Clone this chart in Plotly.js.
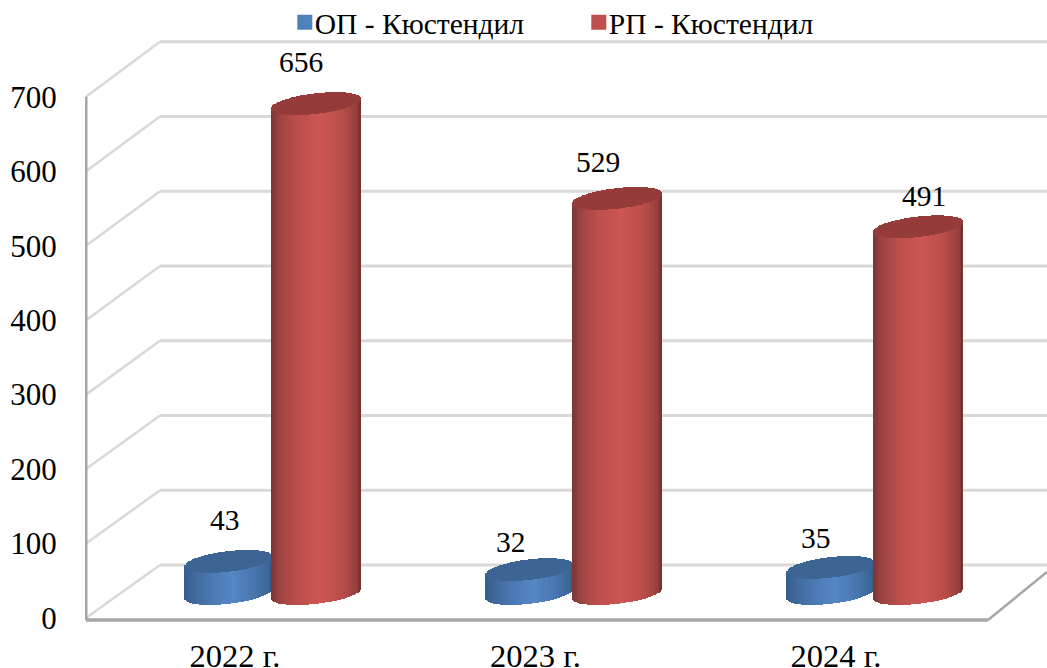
<!DOCTYPE html>
<html><head><meta charset="utf-8">
<script src="https://cdn.plot.ly/plotly-3.0.1.min.js"></script>
<style>html,body{margin:0;padding:0;background:#fff}#c{width:1047px;height:668px}</style>
</head><body><div id="c"></div>
<script>
// Data
const categories = ['2022 г.', '2023 г.', '2024 г.'];
const seriesOP = [43, 32, 35];
const seriesRP = [656, 529, 491];
const nameOP = 'ОП - Кюстендил';
const nameRP = 'РП - Кюстендил';
const yTicks = [0, 100, 200, 300, 400, 500, 600, 700];

// Pixel layout of the plot area
const W = 1047, H = 668;
const plotL = 85, plotR = 1047, plotT = 38, plotB = 622;
const x0px = 235, xStep = 300.5;         // category 0 and spacing
const y0px = 618, yStep = 0.7446;        // value 0 and px per unit
const xr = px => (px - x0px) / xStep;
const yr = px => (y0px - px) / yStep;
const FONT = '"Liberation Serif","Times New Roman",serif';

// 3D look
const depthMid = 24.5 / yStep;           // bars stand mid-floor
const backOff = 53 / yStep, backScale = 1.004;
const heightScale = 1.003;
const barDrift = 0.5 / xStep;            // bars step slightly wider than the labels
const A = { blue: 44 / xStep, red: 45 / xStep };
const B = 10.3 / yStep, T = 5 / yStep;
const centers = { blue: 228.5, red: 316 };
const redStops = [[0,'#7a3533'],[0.1,'#9c4442'],[0.3,'#bd4f4c'],[0.55,'#cc5653'],[0.8,'#b94d4a'],[0.95,'#97403e'],[1,'#723130']];
const blueStops = [[0,'#345d8f'],[0.1,'#3f6799'],[0.3,'#4a78b1'],[0.55,'#5587c6'],[0.8,'#4875ad'],[0.95,'#3c6696'],[1,'#33587f']];
const capColor = { blue: '#3d6594', red: '#953b3a' };
const barCenter = (i,key) => i*(1+barDrift) + xr(centers[key]);

function hex(c){return [1,3,5].map(i=>parseInt(c.substr(i,2),16));}
function grad(stops,t){
  for(let i=1;i<stops.length;i++){
    if(t<=stops[i][0]){
      const f=(t-stops[i-1][0])/(stops[i][0]-stops[i-1][0]);
      const a=hex(stops[i-1][1]),b=hex(stops[i][1]);
      return 'rgb('+a.map((v,k)=>Math.round(v+(b[k]-v)*f)).join(',')+')';
    }
  }
  return stops[stops.length-1][1];
}

function cylinderTraces(vals, key, stops){
  const n = 70, a = A[key], step = 2*a/n;
  const bx=[],bb=[],bh=[],bc=[],cx=[],cb=[],ch=[];
  vals.forEach((v,i)=>{
    const cxv = barCenter(i,key);
    for(let s=0;s<n;s++){
      const u = -1 + (s+0.5)*2/n;
      const r = Math.sqrt(Math.max(0,1-u*u));
      const lowerBase = depthMid + T*u - B*r;
      const topMid = depthMid + v*heightScale + T*u;
      const xx = cxv + u*a;
      bx.push(xx); bb.push(lowerBase); bh.push(topMid-lowerBase); bc.push(grad(stops,(u+1)/2));
      cx.push(xx); cb.push(topMid - B*r); ch.push(2*B*r);
    }
  });
  const common={type:'bar',showlegend:false,hoverinfo:'skip',width:step*1.35};
  return [
    {...common,x:bx,y:bh,base:bb,marker:{color:bc,line:{width:0}}},
    {...common,x:cx,y:ch,base:cb,marker:{color:capColor[key],line:{width:0}}}
  ];
}

function mainBar(vals,key,name,color){
  return {type:'bar',name,showlegend:false,x:vals.map((_,i)=>barCenter(i,key)),y:vals,
    base:vals.map(()=>depthMid),width:2*A[key]*0.85,marker:{color,line:{width:0}},hoverinfo:'skip'};
}
function legendEntry(name,color){
  return {type:'scatter',mode:'markers',name,x:[null],y:[null],marker:{symbol:'square',size:15,color,line:{width:0}},hoverinfo:'skip'};
}

const traces = [
  mainBar(seriesOP,'blue',nameOP,'#4f81bd'),
  ...cylinderTraces(seriesOP,'blue',blueStops),
  mainBar(seriesRP,'red',nameRP,'#c0504d'),
  ...cylinderTraces(seriesRP,'red',redStops),
  legendEntry(nameOP,'#4f81bd'),
  legendEntry(nameRP,'#c0504d')
];

// Walls and gridlines
const shapes=[];
const line=(x1,y1,x2,y2,color,width)=>shapes.push({type:'line',layer:'below',xref:'x',yref:'y',x0:x1,y0:y1,x1:x2,y1:y2,line:{color,width}});
const gridC='#d9d9d9', axisC='#a6a6a6';
const xL=xr(86), xB=xr(160), xR=xr(1047), xF=xr(988);
yTicks.forEach(t=>{
  const yb=t*backScale+backOff;
  line(xB,yb,xR,yb,gridC,3);
  line(xL,t,xB,yb,gridC,2.5);
});
line(xL,yr(620),xL,700,axisC,3);
line(xL,yr(620),xF,yr(620),axisC,3.5);
line(xF,yr(620),xR,yr(572),axisC,2.5);

// Value labels: horizontal / vertical nudges off each bar (pixels)
const labelDxOP=[-4,-19,-15], labelDyOP=[41,28,29];
const labelDxRP=[-15,-19,6], labelDyRP=[43,38,32];
const annotations=[];
function addLabels(vals,key,dx,dy){
  vals.forEach((v,i)=>annotations.push({x:barCenter(i,key),y:depthMid+v,xref:'x',yref:'y',text:String(v),showarrow:false,
    xshift:dx[i],yshift:dy[i],xanchor:'center',yanchor:'middle',font:{family:FONT,size:29.5,color:'#000'}}));
}
addLabels(seriesOP,'blue',labelDxOP,labelDyOP);
addLabels(seriesRP,'red',labelDxRP,labelDyRP);

const layout={
  width:W,height:H,autosize:false,paper_bgcolor:'#fff',plot_bgcolor:'#fff',
  margin:{l:plotL,r:W-plotR,t:plotT,b:H-plotB,pad:0},
  barmode:'overlay',bargap:0,
  font:{family:FONT,color:'#000'},
  showlegend:true,
  legend:{orientation:'h',x:0.1973,xanchor:'left',y:1.06,yanchor:'top',entrywidth:249,entrywidthmode:'pixels',
    font:{family:FONT,size:29.5,color:'#000'},bgcolor:'rgba(0,0,0,0)',itemclick:false,itemdoubleclick:false},
  xaxis:{range:[xr(plotL),xr(plotR)],tickmode:'array',tickvals:categories.map((_,i)=>i),ticktext:categories,
    showgrid:false,zeroline:false,showline:false,ticks:'outside',ticklen:5,tickcolor:'rgba(0,0,0,0)',
    tickfont:{family:FONT,size:32.5,color:'#000'},fixedrange:true},
  yaxis:{range:[yr(plotB),yr(plotT)],tickmode:'array',tickvals:yTicks,ticktext:yTicks.map(String),
    showgrid:false,zeroline:false,showline:false,ticks:'outside',ticklen:21,tickcolor:'rgba(0,0,0,0)',
    tickfont:{family:FONT,size:31,color:'#000'},fixedrange:true},
  shapes,annotations
};
Plotly.newPlot('c',traces,layout,{displayModeBar:false,staticPlot:true}).then(gd=>{
  // Bring each legend swatch next to its text, and the legend up to the chart's top edge
  gd.querySelectorAll('.legend .legendsymbols').forEach(s=>{
    const t=s.getAttribute('transform')||'';
    s.setAttribute('transform',t+' translate(10,0)');
  });
  const lg=gd.querySelector('.legend');
  const m=/translate\(([-\d.]+),\s*([-\d.]+)\)/.exec(lg.getAttribute('transform')||'');
  if(m) lg.setAttribute('transform','translate('+m[1]+','+(parseFloat(m[2])-6.5)+')');
});
</script></body></html>
